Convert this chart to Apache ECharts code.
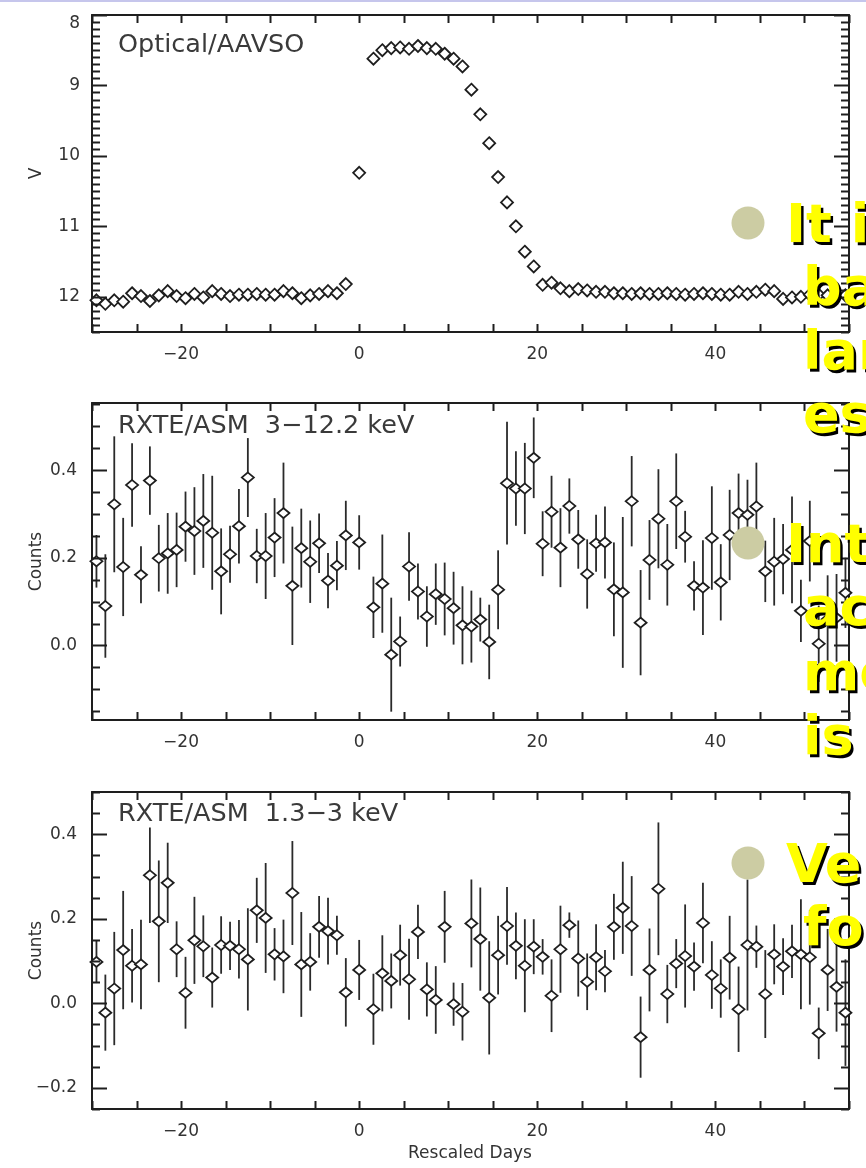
<!DOCTYPE html>
<html>
<head>
<meta charset="utf-8">
<script src="https://cdn.jsdelivr.net/npm/echarts@6/dist/echarts.min.js"></script>
<style>
html, body { margin: 0; padding: 0; background: #ffffff; }
#chart { width: 866px; height: 1168px; }
</style>
</head>
<body>
<div id="chart"></div>
<script>
// Observation times (rescaled days), shared by all three light curves
const days = [
  -29.5, -28.5, -27.5, -26.5, -25.5, -24.5, -23.5, -22.5, -21.5, -20.5,
  -19.5, -18.5, -17.5, -16.5, -15.5, -14.5, -13.5, -12.5, -11.5, -10.5,
  -9.5, -8.5, -7.5, -6.5, -5.5, -4.5, -3.5, -2.5, -1.5, 0,
  1.6, 2.6, 3.6, 4.6, 5.6, 6.6, 7.6, 8.6, 9.6, 10.6,
  11.6, 12.6, 13.6, 14.6, 15.6, 16.6, 17.6, 18.6, 19.6, 20.6,
  21.6, 22.6, 23.6, 24.6, 25.6, 26.6, 27.6, 28.6, 29.6, 30.6,
  31.6, 32.6, 33.6, 34.6, 35.6, 36.6, 37.6, 38.6, 39.6, 40.6,
  41.6, 42.6, 43.6, 44.6, 45.6, 46.6, 47.6, 48.6, 49.6, 50.6,
  51.6, 52.6, 53.6, 54.6
];

// Optical V magnitude (AAVSO)
const opticalV = [
  12.05, 12.10, 12.05, 12.07, 11.95, 11.99, 12.06, 11.98, 11.92, 11.99,
  12.02, 11.96, 12.01, 11.92, 11.96, 11.99, 11.97, 11.97, 11.96, 11.97,
  11.97, 11.92, 11.95, 12.02, 11.98, 11.96, 11.92, 11.95, 11.82, 10.24,
  8.62, 8.50, 8.47, 8.46, 8.48, 8.44, 8.47, 8.48, 8.55, 8.62,
  8.73, 9.06, 9.41, 9.82, 10.30, 10.66, 11.00, 11.36, 11.57, 11.83,
  11.80, 11.88, 11.92, 11.89, 11.91, 11.93, 11.93, 11.95, 11.95, 11.96,
  11.95, 11.96, 11.96, 11.95, 11.96, 11.97, 11.96, 11.95, 11.96, 11.97,
  11.97, 11.93, 11.96, 11.93, 11.90, 11.92, 12.03, 12.01, 12.00, 11.97,
  11.97, 11.98, 12.00, 11.98
];

// RXTE/ASM 3-12.2 keV counts and 1-sigma errors
const hardCounts = [
  0.192, 0.090, 0.322, 0.179, 0.366, 0.161, 0.376, 0.199, 0.210, 0.218,
  0.271, 0.261, 0.284, 0.257, 0.169, 0.208, 0.272, 0.383, 0.204, 0.204,
  0.246, 0.302, 0.136, 0.222, 0.191, 0.233, 0.148, 0.182, 0.251, 0.235,
  0.087, 0.141, -0.021, 0.009, 0.180, 0.123, 0.066, 0.117, 0.106, 0.085,
  0.046, 0.043, 0.059, 0.008, 0.127, 0.370, 0.358, 0.358, 0.428, 0.232,
  0.305, 0.223, 0.318, 0.242, 0.163, 0.233, 0.235, 0.128, 0.121, 0.329,
  0.052, 0.195, 0.289, 0.184, 0.329, 0.248, 0.136, 0.132, 0.245, 0.144,
  0.252, 0.302, 0.298, 0.317, 0.169, 0.191, 0.197, 0.218, 0.079, 0.238,
  0.004, 0.060, 0.063, 0.120
];
const hardErr = [
  0.060, 0.118, 0.155, 0.112, 0.095, 0.065, 0.078, 0.076, 0.092, 0.085,
  0.080, 0.100, 0.107, 0.130, 0.098, 0.065, 0.085, 0.090, 0.062, 0.098,
  0.090, 0.115, 0.135, 0.090, 0.094, 0.068, 0.063, 0.056, 0.079, 0.062,
  0.070, 0.112, 0.130, 0.057, 0.078, 0.064, 0.069, 0.070, 0.083, 0.083,
  0.089, 0.082, 0.050, 0.085, 0.090, 0.140, 0.085, 0.104, 0.092, 0.074,
  0.082, 0.090, 0.063, 0.067, 0.079, 0.065, 0.082, 0.107, 0.172, 0.103,
  0.120, 0.091, 0.113, 0.093, 0.109, 0.059, 0.056, 0.108, 0.118, 0.087,
  0.103, 0.090, 0.080, 0.100, 0.070, 0.100, 0.080, 0.122, 0.071, 0.092,
  0.087, 0.100, 0.100, 0.080
];

// RXTE/ASM 1.3-3 keV counts and 1-sigma errors
const softCounts = [
  0.098, -0.022, 0.035, 0.126, 0.089, 0.092, 0.303, 0.194, 0.285, 0.128,
  0.025, 0.149, 0.135, 0.061, 0.138, 0.136, 0.128, 0.104, 0.220, 0.202,
  0.116, 0.111, 0.261, 0.092, 0.098, 0.181, 0.171, 0.161, 0.026, 0.079,
  -0.014, 0.071, 0.053, 0.114, 0.057, 0.169, 0.033, 0.008, 0.181, -0.002,
  -0.020, 0.189, 0.152, 0.013, 0.114, 0.183, 0.136, 0.089, 0.134, 0.110,
  0.018, 0.128, 0.185, 0.106, 0.051, 0.109, 0.076, 0.181, 0.226, 0.183,
  -0.080, 0.079, 0.271, 0.022, 0.094, 0.112, 0.087, 0.190, 0.067, 0.035,
  0.108, -0.014, 0.138, 0.134, 0.022, 0.116, 0.087, 0.123, 0.116, 0.109,
  -0.071, 0.079, 0.039, -0.022
];
const softErr = [
  0.050, 0.090, 0.134, 0.140, 0.087, 0.106, 0.113, 0.144, 0.095, 0.066,
  0.085, 0.103, 0.073, 0.071, 0.068, 0.057, 0.069, 0.121, 0.077, 0.130,
  0.062, 0.087, 0.123, 0.124, 0.068, 0.073, 0.079, 0.046, 0.081, 0.071,
  0.084, 0.090, 0.065, 0.072, 0.096, 0.064, 0.064, 0.080, 0.085, 0.051,
  0.068, 0.104, 0.122, 0.134, 0.093, 0.092, 0.079, 0.110, 0.065, 0.042,
  0.086, 0.103, 0.030, 0.090, 0.067, 0.078, 0.050, 0.078, 0.109, 0.118,
  0.096, 0.098, 0.157, 0.069, 0.058, 0.122, 0.057, 0.095, 0.080, 0.069,
  0.099, 0.101, 0.155, 0.050, 0.104, 0.071, 0.067, 0.063, 0.130, 0.112,
  0.061, 0.097, 0.106, 0.126
];

// Tick labels
const dayTicks = [-20, 0, 20, 40];
const opticalTicks = [8, 9, 10, 11, 12];
const hardTicks = [0.0, 0.2, 0.4];
const softTicks = [-0.2, 0.0, 0.2, 0.4];

// Text
const panelTitles = ['Optical/AAVSO', 'RXTE/ASM  3\u221212.2 keV', 'RXTE/ASM  1.3\u22123 keV'];
const yTitles = ['V', 'Counts', 'Counts'];
const xTitle = 'Rescaled Days';
const bulletLines = [
  ['It i', 'ba', 'lar', 'es'],
  ['Int', 'ac', 'mo', 'is'],
  ['Ve', 'fo']
];

const INK = '#1e1e1e';
const LABEL = '#333333';
const FONT = '"DejaVu Sans", Verdana, sans-serif';
const X_MIN = -30, X_MAX = 55, X_STEP = 5;

const minus = s => String(s).replace('-', '\u2212');

const panels = [
  { top: 15, height: 317, min: 8, max: 12.5, inverse: true, major: opticalTicks, minorStep: 0.1,
    fmt: v => String(v), labelMargin: 12, titleDy: 30 },
  { top: 403, height: 317, min: -0.17, max: 0.553, inverse: false, major: hardTicks, minorStep: 0.05,
    fmt: v => minus(v.toFixed(1)), labelMargin: 15, titleDy: 23 },
  { top: 792, height: 317, min: -0.25, max: 0.5, inverse: false, major: softTicks, minorStep: 0.05,
    fmt: v => minus(v.toFixed(1)), labelMargin: 15, titleDy: 22 }
];

// evenly spaced tick positions between two limits
function stepValues(lo, hi, step) {
  const out = [];
  for (let k = Math.ceil(lo / step - 1e-9); k * step <= hi + 1e-9; k++) {
    out.push(Math.round(k * step * 1000) / 1000);
  }
  return out;
}

const TICK_STYLE = { stroke: INK, lineWidth: 2 };
const grids = [], xAxes = [], yAxes = [], series = [];

panels.forEach((p, i) => {
  grids.push({ left: 92, width: 757, top: p.top, height: p.height, containLabel: false });

  const axisLine = { show: true, onZero: false, lineStyle: { color: INK, width: 2 } };
  // x axes: bottom one carries the labels, top one closes the box
  xAxes.push({
    type: 'value', gridIndex: i, position: 'bottom', min: X_MIN, max: X_MAX, interval: X_STEP,
    axisLine, axisTick: { show: false }, splitLine: { show: false },
    axisLabel: {
      show: true, interval: 0, margin: 14, color: LABEL, fontFamily: FONT, fontSize: 17,
      showMinLabel: true, showMaxLabel: true,
      formatter: v => dayTicks.includes(v) ? minus(v) : ''
    }
  });
  xAxes.push({
    type: 'value', gridIndex: i, position: 'top', min: X_MIN, max: X_MAX, interval: X_STEP,
    axisLine, axisTick: { show: false }, axisLabel: { show: false }, splitLine: { show: false }
  });
  // y axes: left one carries the labels, right one closes the box
  yAxes.push({
    type: 'value', gridIndex: i, position: 'left', min: p.min, max: p.max, inverse: p.inverse,
    axisLine, axisTick: { show: false }, splitLine: { show: false },
    axisLabel: { show: true, customValues: p.major, formatter: p.fmt, margin: p.labelMargin,
                 color: LABEL, fontFamily: FONT, fontSize: 17,
                 verticalAlignMinLabel: p.inverse ? 'top' : null }
  });
  yAxes.push({
    type: 'value', gridIndex: i, position: 'right', min: p.min, max: p.max, inverse: p.inverse,
    axisLine, axisTick: { show: false }, axisLabel: { show: false }, splitLine: { show: false }
  });

  const xi = i * 2, yi = i * 2;

  // inward tick marks on both y sides: long at labelled values, short at minor steps
  const yTickData = stepValues(p.min, p.max, p.minorStep)
    .map(v => [X_MIN, v, p.major.some(m => Math.abs(m - v) < 1e-6) ? 15 : 8]);
  series.push({
    type: 'custom', xAxisIndex: xi, yAxisIndex: yi, data: yTickData, encode: { x: 0, y: 1 },
    clip: false, silent: true, animation: false, z: 5,
    renderItem: (params, api) => {
      const cs = params.coordSys;
      const y = Math.round(api.coord([api.value(0), api.value(1)])[1]) + 0.5;
      const len = api.value(2);
      return { type: 'group', children: [
        { type: 'line', shape: { x1: cs.x, y1: y, x2: cs.x + len, y2: y }, style: TICK_STYLE },
        { type: 'line', shape: { x1: cs.x + cs.width, y1: y, x2: cs.x + cs.width - len, y2: y }, style: TICK_STYLE }
      ] };
    }
  });
  // inward tick marks on both x sides every 5 days
  const xTickData = stepValues(X_MIN, X_MAX, X_STEP).map(v => [v, p.min, 8]);
  series.push({
    type: 'custom', xAxisIndex: xi, yAxisIndex: yi, data: xTickData, encode: { x: 0, y: 1 },
    clip: false, silent: true, animation: false, z: 5,
    renderItem: (params, api) => {
      const cs = params.coordSys;
      const x = Math.round(api.coord([api.value(0), api.value(1)])[0]) + 0.5;
      const len = api.value(2);
      return { type: 'group', children: [
        { type: 'line', shape: { x1: x, y1: cs.y + cs.height, x2: x, y2: cs.y + cs.height - len }, style: TICK_STYLE },
        { type: 'line', shape: { x1: x, y1: cs.y, x2: x, y2: cs.y + len }, style: TICK_STYLE }
      ] };
    }
  });
});

function diamonds(xi, yi, vals, size) {
  return {
    type: 'scatter', xAxisIndex: xi, yAxisIndex: yi,
    data: days.map((d, k) => [d, vals[k]]),
    symbol: 'diamond', symbolSize: size,
    itemStyle: { color: '#ffffff', borderColor: INK, borderWidth: 1.8, opacity: 1 },
    z: 4, silent: true, animation: false
  };
}

function errorBars(xi, yi, vals, errs) {
  return {
    type: 'custom', xAxisIndex: xi, yAxisIndex: yi,
    data: days.map((d, k) => [d, vals[k] - errs[k], vals[k] + errs[k]]),
    encode: { x: 0, y: [1, 2] },
    renderItem: (params, api) => {
      const lo = api.coord([api.value(0), api.value(1)]);
      const hi = api.coord([api.value(0), api.value(2)]);
      return {
        type: 'line',
        shape: { x1: lo[0], y1: lo[1], x2: hi[0], y2: hi[1] },
        style: { stroke: '#2a2a2a', lineWidth: 1.8 }
      };
    },
    clip: true, z: 2, silent: true, animation: false
  };
}

series.push(
  diamonds(0, 0, opticalV, [12, 12]),
  errorBars(2, 2, hardCounts, hardErr),
  diamonds(2, 2, hardCounts, [12, 10]),
  errorBars(4, 4, softCounts, softErr),
  diamonds(4, 4, softCounts, [12, 10])
);

// Annotations: panel titles, axis titles, slide bullets
const graphics = [];
graphics.push({ type: 'rect', shape: { x: 0, y: 0, width: 866, height: 2 }, style: { fill: '#c6c6ec' }, z: 10 });

panels.forEach((p, i) => {
  graphics.push({
    type: 'text', x: 118, y: p.top + p.titleDy, z: 10,
    style: { text: panelTitles[i], fill: '#3a3a3a', font: '25.5px ' + FONT, textAlign: 'left', textVerticalAlign: 'middle' }
  });
  graphics.push({
    type: 'text', x: 37, y: p.top + p.height / 2, rotation: Math.PI / 2, z: 10,
    style: { text: yTitles[i], fill: LABEL, font: '17px ' + FONT, textAlign: 'center', textVerticalAlign: 'middle' }
  });
});
graphics.push({
  type: 'text', x: 470, y: 1154, z: 10,
  style: { text: xTitle, fill: LABEL, font: '17px ' + FONT, textAlign: 'center', textVerticalAlign: 'middle' }
});

const bulletCenters = [223, 543, 863];
const bulletBaselines = [[245, 308, 372, 435], [565, 628, 693, 757], [885, 948]];
const BIG = 'bold 54px "DejaVu Sans", Verdana, sans-serif';
bulletLines.forEach((lines, b) => {
  graphics.push({
    type: 'circle', shape: { cx: 748, cy: bulletCenters[b], r: 16.5 },
    style: { fill: '#cccca3' }, z: 20
  });
  lines.forEach((t, j) => {
    const x = j === 0 ? 786 : 803;
    const y = bulletBaselines[b][j] - 17;
    graphics.push({
      type: 'text', x: x + 2.5, y: y + 2.5, z: 20,
      style: { text: t, fill: '#000000', font: BIG, textAlign: 'left', textVerticalAlign: 'middle' }
    });
    graphics.push({
      type: 'text', x: x, y: y, z: 21,
      style: { text: t, fill: '#ffff00', font: BIG, textAlign: 'left', textVerticalAlign: 'middle' }
    });
  });
});

const chart = echarts.init(document.getElementById('chart'), null, { renderer: 'canvas' });
chart.setOption({
  backgroundColor: '#ffffff',
  animation: false,
  grid: grids,
  xAxis: xAxes,
  yAxis: yAxes,
  series: series,
  graphic: { elements: graphics }
});
</script>
</body>
</html>
